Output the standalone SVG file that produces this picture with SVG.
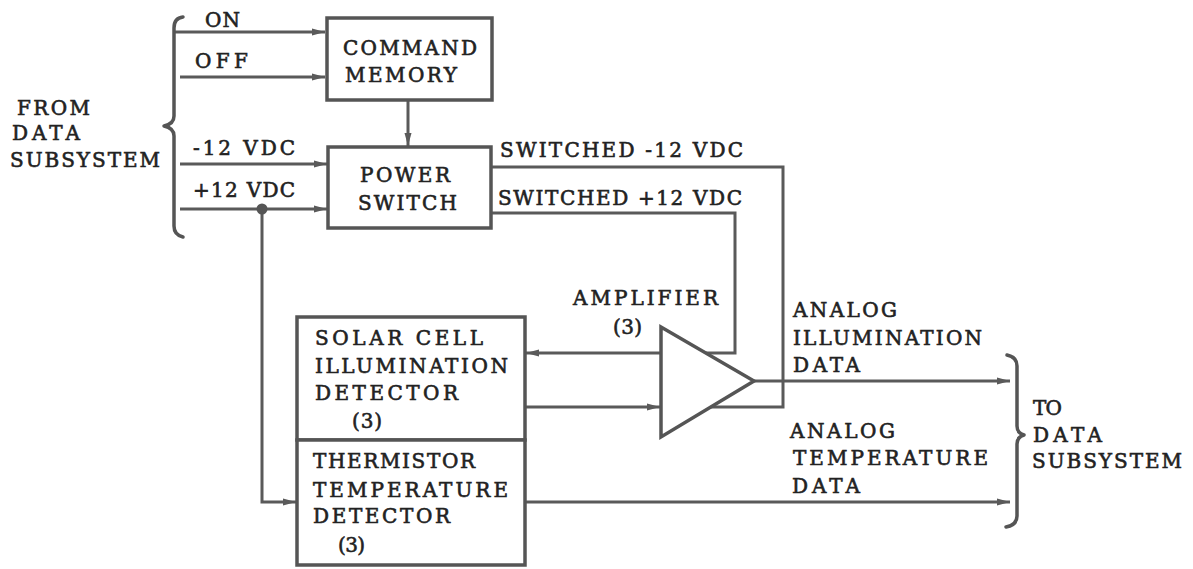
<svg xmlns="http://www.w3.org/2000/svg" width="1193" height="569" viewBox="0 0 1193 569">
<style>
.bg{fill:#ffffff}
.box{fill:#ffffff;stroke:#555;stroke-width:3.5}
.ln{fill:none;stroke:#5a5a5a;stroke-width:3}
.arr{marker-end:url(#ah)}
.br{fill:none;stroke:#555;stroke-width:3.5;stroke-linecap:round;stroke-linejoin:round}
text{font-family:"DejaVu Serif","Liberation Serif",serif;font-size:20px;font-weight:normal;fill:#222;stroke:#222;stroke-width:0.6;lengthAdjust:spacing}
</style>
<defs>
<marker id="ah" markerUnits="userSpaceOnUse" markerWidth="14" markerHeight="8" refX="13" refY="4" orient="auto">
<path d="M0,0.5 L13,4 L0,7.5 z" fill="#5a5a5a"/>
</marker>
</defs>
<rect class="bg" x="0" y="0" width="1193" height="569"/>

<g id="connectors">
<path class="ln arr" d="M174,32 H325"/>
<path class="ln arr" d="M180,77 H325"/>
<path class="ln arr" d="M180,164 H327"/>
<path class="ln arr" d="M180,209 H327"/>
<path class="ln arr" d="M408,100 V146"/>
<path class="ln" d="M491,167 H783 V407 H711"/>
<path class="ln" d="M491,213 H735 V353 H706"/>
<path class="ln arr" d="M661,353 H526"/>
<path class="ln arr" d="M525,407 H660"/>
<path class="ln arr" d="M754,381 H1010"/>
<path class="ln arr" d="M525,502 H1010"/>
<path class="ln arr" d="M262,209 V502 H296"/>
<circle cx="262" cy="209" r="5.5" fill="#555"/>
</g>

<g id="brace_left">
<path class="br" d="M183,17 Q174,18 174,28 L174,116 Q174,124 164,126 Q174,128 174,136 L174,226 Q174,235 183,237"/>
<text x="17" y="115" textLength="73">FROM</text>
<text x="12" y="140" textLength="68">DATA</text>
<text x="10" y="167" textLength="150">SUBSYSTEM</text>
<text x="205" y="27" textLength="35">ON</text>
<text x="195" y="68" textLength="53">OFF</text>
<text x="193" y="155" textLength="102">-12 VDC</text>
<text x="193" y="197" textLength="102">+12 VDC</text>
</g>

<g id="command_memory">
<rect class="box" x="327" y="18" width="165" height="82"/>
<text x="343" y="55" textLength="134">COMMAND</text>
<text x="345" y="82" textLength="112">MEMORY</text>
</g>

<g id="power_switch">
<rect class="box" x="328" y="147" width="163" height="81"/>
<text x="360" y="182" textLength="90">POWER</text>
<text x="358" y="210" textLength="99">SWITCH</text>
</g>

<g id="switched_labels">
<text x="500" y="157" textLength="243">SWITCHED -12 VDC</text>
<text x="498" y="205" textLength="244">SWITCHED +12 VDC</text>
</g>

<g id="amplifier">
<polygon class="box" points="661,327 661,437 754,381"/>
<text x="573" y="305" textLength="145">AMPLIFIER</text>
<text x="613" y="334" textLength="29">(3)</text>
</g>

<g id="solar_cell_detector">
<rect class="box" x="297" y="317" width="228" height="123"/>
<text x="315" y="345" textLength="168">SOLAR CELL</text>
<text x="315" y="373" textLength="193">ILLUMINATION</text>
<text x="315" y="400" textLength="143">DETECTOR</text>
<text x="352" y="428" textLength="30">(3)</text>
</g>

<g id="thermistor_detector">
<rect class="box" x="297" y="440" width="228" height="125"/>
<text x="313" y="468" textLength="162">THERMISTOR</text>
<text x="313" y="497" textLength="195">TEMPERATURE</text>
<text x="313" y="523" textLength="137">DETECTOR</text>
<text x="338" y="552" textLength="27">(3)</text>
</g>

<g id="output_labels">
<text x="793" y="317" textLength="104">ANALOG</text>
<text x="793" y="345" textLength="189">ILLUMINATION</text>
<text x="793" y="372" textLength="67">DATA</text>
<text x="790" y="438" textLength="105">ANALOG</text>
<text x="793" y="465" textLength="195">TEMPERATURE</text>
<text x="792" y="493" textLength="68">DATA</text>
</g>

<g id="brace_right">
<path class="br" d="M1007,355 Q1017,357 1017,366 L1017,426 Q1017,433 1024,435 Q1017,437 1017,444 L1017,516 Q1017,525 1006,527"/>
<text x="1033" y="415" textLength="29">TO</text>
<text x="1033" y="442" textLength="69">DATA</text>
<text x="1032" y="468" textLength="150">SUBSYSTEM</text>
</g>
</svg>
